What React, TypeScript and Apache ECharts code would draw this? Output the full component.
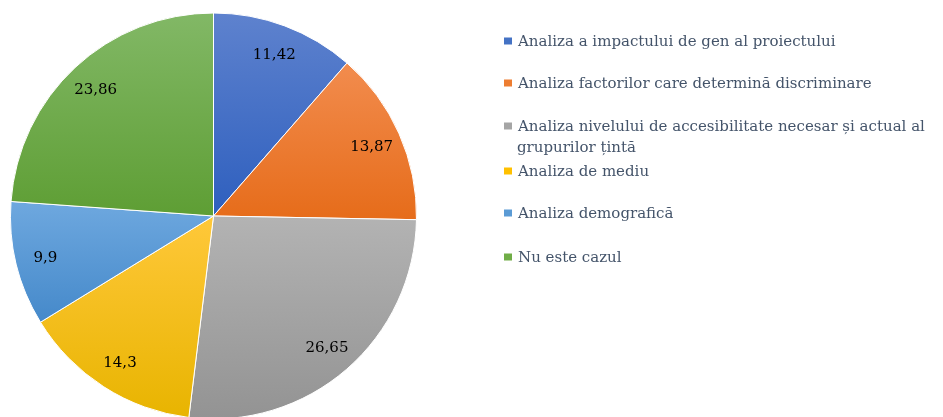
import React, { useEffect, useRef } from "react";
import * as echarts from "echarts";

const categories = [
  "Analiza a impactului de gen al proiectului",
  "Analiza factorilor care determină discriminare",
  "Analiza nivelului de accesibilitate necesar și actual al grupurilor țintă",
  "Analiza de mediu",
  "Analiza demografică",
  "Nu este cazul",
];
const values = [11.42, 13.87, 26.65, 14.3, 9.9, 23.86];
const baseColors = ["#4472C4", "#ED7D31", "#A5A5A5", "#FFC000", "#5B9BD5", "#70AD47"];
const topColors = ["#5E82CE", "#F28C4E", "#B3B3B3", "#FFC83A", "#6EA8DF", "#82B866"];
const bottomColors = ["#2E5FBE", "#E66C1A", "#939393", "#E8B400", "#4589CA", "#5E9E34"];
const legendCenters = [41, 83, 126, 171, 213, 257];

const SERIF = "'DejaVu Serif', serif";

export default function App() {
  const ref = useRef<HTMLDivElement>(null);
  useEffect(() => {
    if (!ref.current) return;
    const chart = echarts.init(ref.current, null, { renderer: "svg" });
    const grad = (i: number) =>
      new echarts.graphic.LinearGradient(0, 0, 0, 1, [
        { offset: 0, color: topColors[i] },
        { offset: 1, color: bottomColors[i] },
      ]);
    const legendLabel = (name: string) =>
      name === categories[2] ? "Analiza nivelului de accesibilitate necesar și actual al" : name;
    chart.setOption({
      animation: false,
      legend: categories.map((name, i) => ({
        orient: "vertical",
        left: 502,
        top: legendCenters[i] - 9,
        padding: 0,
        itemWidth: 10,
        itemHeight: 9,
        icon: "rect",
        selectedMode: false,
        data: [{ name, itemStyle: { color: baseColors[i] } }],
        formatter: legendLabel,
        textStyle: { fontFamily: SERIF, fontSize: 15, color: "#44546A", lineHeight: 18 },
      })),
      graphic: [
        {
          type: "text",
          left: 517,
          top: legendCenters[2] + 22 - 9,
          style: { text: "grupurilor țintă", font: `15px ${SERIF}`, fill: "#44546A" },
        },
      ],
      series: [
        {
          type: "pie",
          center: [213.5, 216],
          radius: 203,
          startAngle: 90,
          clockwise: true,
          silent: true,
          label: { show: false },
          labelLine: { show: false },
          itemStyle: { borderColor: "#ffffff", borderWidth: 1 },
          data: categories.map((name, i) => ({ name, value: values[i], itemStyle: { color: grad(i) } })),
        },
        {
          type: "pie",
          center: [213.5, 216],
          radius: [137, 203],
          startAngle: 90,
          clockwise: true,
          silent: true,
          itemStyle: { color: "rgba(0,0,0,0)" },
          label: {
            show: true,
            position: "inside",
            formatter: (p: any) => String(p.value).replace(".", ","),
            fontFamily: SERIF,
            fontSize: 15,
            color: "#000000",
          },
          labelLine: { show: false },
          data: categories.map((name, i) => ({ name, value: values[i] })),
        },
      ],
    });
    return () => chart.dispose();
  }, []);
  return <div ref={ref} style={{ position: "fixed", left: 0, top: 0, width: 943, height: 417 }} />;
}
